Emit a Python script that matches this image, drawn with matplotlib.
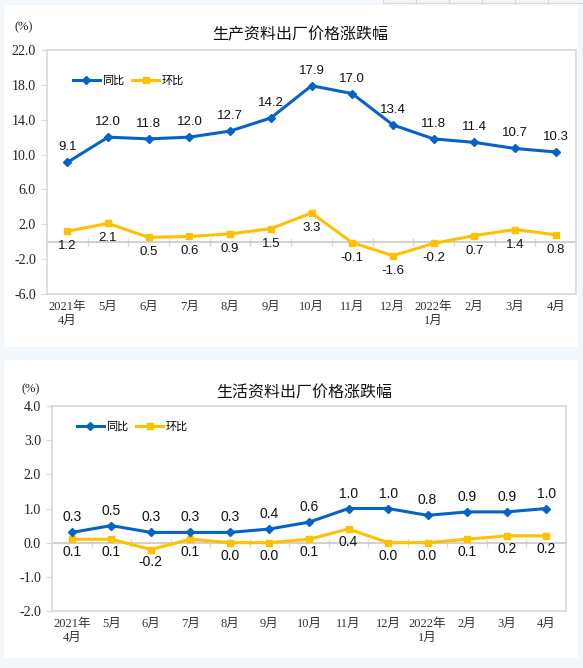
import matplotlib
matplotlib.use('Agg')
import matplotlib.pyplot as plt
from matplotlib.patches import Rectangle
from matplotlib.lines import Line2D

W, H = 583, 668

months = ['2021年\n4月', '5月', '6月', '7月', '8月', '9月', '10月', '11月',
          '12月', '2022年\n1月', '2月', '3月', '4月']

# 生产资料
prod_yoy = [9.1, 12.0, 11.8, 12.0, 12.7, 14.2, 17.9, 17.0, 13.4, 11.8, 11.4, 10.7, 10.3]
prod_mom = [1.2, 2.1, 0.5, 0.6, 0.9, 1.5, 3.3, -0.1, -1.6, -0.2, 0.7, 1.4, 0.8]
prod_ticks = [-6.0, -2.0, 2.0, 6.0, 10.0, 14.0, 18.0, 22.0]

# 生活资料
life_yoy = [0.3, 0.5, 0.3, 0.3, 0.3, 0.4, 0.6, 1.0, 1.0, 0.8, 0.9, 0.9, 1.0]
life_mom = [0.1, 0.1, -0.2, 0.1, 0.0, 0.0, 0.1, 0.4, 0.0, 0.0, 0.1, 0.2, 0.2]
life_ticks = [-2.0, -1.0, 0.0, 1.0, 2.0, 3.0, 4.0]

BLUE = '#0563c8'
YELLOW = '#ffc000'
GRID = '#d9d9d9'
CJK = ['Liberation Serif', 'Noto Sans CJK SC']
SANS_CJK = ['Noto Sans CJK SC', 'DejaVu Sans']


def px_rect(l, t, r, b):
    return [l / W, 1 - b / H, (r - l) / W, (b - t) / H]


def draw_chart(rect, title, title_x, title_y, pct_x, pct_y, yoy, mom, yticks,
               leg_x, leg_y, up_off, down_off, lab_size):
    ax = fig.add_axes(px_rect(*rect))
    ax.set_facecolor('white')
    n = len(months)
    xs = list(range(n))
    ax.set_xlim(-0.5, n - 0.5)
    ax.set_ylim(yticks[0], yticks[-1])
    ax.set_yticks(yticks)
    ax.set_yticklabels(['%.1f' % v for v in yticks], family='Liberation Serif',
                       fontsize=10, color='#222222')
    ax.set_xticks(xs)
    ax.set_xticklabels(months, family=CJK, fontsize=9, color='#333333',
                       linespacing=1.25)
    ax.tick_params(axis='x', length=0, pad=5)
    ax.tick_params(axis='y', length=4, color=GRID, pad=4)
    for s in ax.spines.values():
        s.set_color(GRID)
        s.set_linewidth(1.2)

    # zero line with category dividers
    zero = (0 - yticks[0]) / (yticks[-1] - yticks[0])
    sec = ax.secondary_xaxis(zero)
    sec.set_xticks([i + 0.5 for i in range(n - 1)])
    sec.set_xticklabels([])
    sec.tick_params(direction='inout', length=6, color=GRID, width=1)
    for s in sec.spines.values():
        s.set_color('#c8c8c8')
        s.set_linewidth(1.2)

    l1, = ax.plot(xs, yoy, color=BLUE, lw=2.2, marker='D', ms=4,
                  label='同比', zorder=4)
    l2, = ax.plot(xs, mom, color=YELLOW, lw=2.2, marker='s', ms=5,
                  label='环比', zorder=3)
    for i, v in enumerate(yoy):
        ax.annotate('%.1f' % v, (i, v), xytext=(0, up_off),
                    textcoords='offset pixels', ha='center', va='center',
                    family='Liberation Sans', fontsize=lab_size, color='#111111')
    for i, v in enumerate(mom):
        ax.annotate('%.1f' % v, (i, v), xytext=(0, down_off),
                    textcoords='offset pixels', ha='center', va='center',
                    family='Liberation Sans', fontsize=lab_size, color='#111111')

    ax.legend(handles=[l1, l2], loc='center left', ncol=2, frameon=False,
              bbox_to_anchor=(leg_x / W, 1 - leg_y / H),
              bbox_transform=fig.transFigure, borderpad=0, borderaxespad=0,
              handlelength=2.4, handletextpad=0.25, columnspacing=0.7,
              numpoints=1, prop={'family': SANS_CJK, 'size': 8})

    fig.text(title_x / W, 1 - title_y / H, title, ha='center', va='center',
             family=SANS_CJK, fontsize=11.5, color='#111111')
    fig.text(pct_x / W, 1 - pct_y / H, '(%)', ha='center', va='center',
             family='Liberation Serif', fontsize=9, color='#222222')
    return ax


fig = plt.figure(figsize=(W / 100, H / 100), dpi=100, facecolor='#f2f7fc')

# white panels
fig.patches.append(Rectangle((4 / W, 1 - 347 / H), 574 / W, 342 / H,
                             transform=fig.transFigure, facecolor='white',
                             edgecolor='none', zorder=-10))
fig.patches.append(Rectangle((4 / W, 1 - 658 / H), 574 / W, 298 / H,
                             transform=fig.transFigure, facecolor='white',
                             edgecolor='none', zorder=-10))

# remnant of a table at the top edge
fig.add_artist(Line2D([383 / W, 1], [1 - 3 / H, 1 - 3 / H],
                      transform=fig.transFigure, color='#d6d6d6', lw=0.8))
for xp in [383, 416, 449, 482, 515, 548]:
    fig.add_artist(Line2D([xp / W, xp / W], [1, 1 - 3 / H],
                          transform=fig.transFigure, color='#d6d6d6', lw=0.8))

draw_chart((47, 50, 576, 294), '生产资料出厂价格涨跌幅', 300, 35, 24, 27,
           prod_yoy, prod_mom, prod_ticks, 73, 81, 15, -15, 9.5)
draw_chart((52, 406, 566, 611), '生活资料出厂价格涨跌幅', 304, 392, 31, 389,
           life_yoy, life_mom, life_ticks, 77, 427, 15, -13, 10)

fig.savefig('out.png', dpi=100, facecolor=fig.get_facecolor())
